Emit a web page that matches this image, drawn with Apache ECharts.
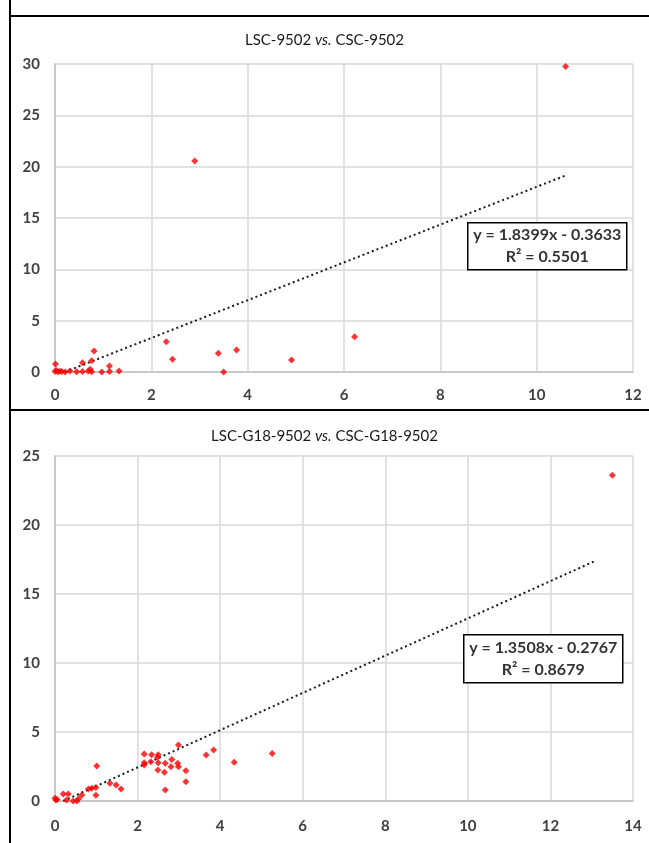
<!DOCTYPE html>
<html>
<head>
<meta charset="utf-8">
<script src="https://cdn.jsdelivr.net/npm/echarts@6/dist/echarts.min.js"></script>
<style>
html,body{margin:0;padding:0;background:#fff;}
#c{width:649px;height:843px;}
</style>
</head>
<body>
<div id="c"></div>
<script>
// ---- Top chart: LSC-9502 vs. CSC-9502 ----
var topX = [0.00,0.06,0.14,0.21,0.31,0.45,0.57,0.69,0.76,0.97,1.13,1.33,0.01,0.57,0.73,0.76,0.81,1.13,0.03,0.10,2.31,2.44,3.39,3.50,3.77,4.91,6.22,2.90,10.60];
var topY = [0.05,0.02,0.05,0.00,0.10,0.03,0.05,0.10,0.02,0.00,0.05,0.10,0.78,0.90,0.26,1.10,2.05,0.58,0.15,0.08,2.94,1.23,1.82,0.00,2.14,1.17,3.44,20.56,29.76];
var topTrendX = [0.20, 10.60];
var topTrendY = [0.00, 19.14];
var topXTicks = [0, 2, 4, 6, 8, 10, 12];
var topYTicks = [0, 5, 10, 15, 20, 25, 30];

// ---- Bottom chart: LSC-G18-9502 vs. CSC-G18-9502 ----
var botX = [0.02,0.05,0.00,0.20,0.32,0.28,0.44,0.53,0.57,0.65,0.81,0.89,0.99,0.99,1.01,1.33,1.48,1.60,
            2.16,2.34,2.50,2.48,2.16,2.16,2.32,2.50,2.49,2.65,2.67,2.83,2.81,2.99,2.97,2.99,3.17,3.17,2.67,
            3.66,3.84,4.34,5.26,13.50];
var botY = [0.07,0.10,0.20,0.50,0.50,0.07,0.00,0.00,0.17,0.43,0.87,0.92,0.97,0.41,2.54,1.28,1.16,0.87,
            3.40,3.36,3.36,3.17,2.78,2.61,2.85,2.78,2.25,2.08,2.73,3.00,2.49,4.06,2.73,2.49,2.20,1.40,0.80,
            3.33,3.70,2.80,3.45,23.60];
var botTrendX = [0.20, 13.10];
var botTrendY = [0.00, 17.42];
var botXTicks = [0, 2, 4, 6, 8, 10, 12, 14];
var botYTicks = [0, 5, 10, 15, 20, 25];

var topTitle = ['LSC-9502 ', 'vs.', ' CSC-9502'];
var botTitle = ['LSC-G18-9502 ', 'vs.', ' CSC-G18-9502'];
var topEq = ['y = 1.8399x - 0.3633', 'R² = 0.5501'];
var botEq = ['y = 1.3508x - 0.2767', 'R² = 0.8679'];

function pairs(xs, ys){ return xs.map(function(x,i){ return [x, ys[i]]; }); }

var FONT = 'Lato';
var labelStyle = {color:'#404040', fontFamily:FONT, fontSize:15, fontWeight:'bold'};
var gridLine = {show:true, lineStyle:{color:'#d9d9d9', width:1.5}};

function xAxis(idx, ticks, labelMargin){
  return {type:'value', gridIndex:idx, min:ticks[0], max:ticks[ticks.length-1], interval:ticks[1]-ticks[0],
    axisLine:{show:true, onZero:false, lineStyle:{color:'#bfbfbf', width:1.5}}, axisTick:{show:false},
    axisLabel:Object.assign({margin:labelMargin}, labelStyle), splitLine:gridLine};
}
function yAxis(idx, ticks){
  return {type:'value', gridIndex:idx, min:ticks[0], max:ticks[ticks.length-1], interval:ticks[1]-ticks[0],
    axisLine:{show:true, onZero:false, lineStyle:{color:'#bfbfbf', width:1.5}}, axisTick:{show:false},
    axisLabel:Object.assign({margin:15}, labelStyle), splitLine:gridLine};
}
function titleText(t){ return '{a|'+t[0]+'}{i|'+t[1]+'}{a|'+t[2]+'}'; }
var titleRich = {a:{fontFamily:FONT, fontSize:15, fontWeight:'normal', color:'#1a1a1a'},
                 i:{fontFamily:FONT, fontSize:15, fontWeight:'normal', fontStyle:'italic', color:'#1a1a1a'}};

function eqBox(x, y, w, h, lines){
  return {type:'group', left:x, top:y, z:100, children:[
    {type:'rect', z:100, shape:{x:0, y:0, width:w, height:h}, style:{fill:'#fff', stroke:'#000', lineWidth:1.5}},
    {type:'text', z:101, x:w/2, y:h/2, style:{text:lines.join('\n'), align:'center', verticalAlign:'middle',
      font:'bold 16px Lato', fill:'#333', lineHeight:22}}
  ]};
}

var chart = echarts.init(document.getElementById('c'), null, {renderer:'canvas'});
chart.setOption({
  animation:false,
  backgroundColor:'#fff',
  title:[
    {text:titleText(topTitle), left:'center', top:28, textStyle:{fontWeight:'normal', rich:titleRich}},
    {text:titleText(botTitle), left:'center', top:424, textStyle:{fontWeight:'normal', rich:titleRich}}
  ],
  grid:[
    {left:55, top:64, width:578, height:308},
    {left:55, top:456, width:578, height:345}
  ],
  xAxis:[xAxis(0, topXTicks, 16), xAxis(1, botXTicks, 18)],
  yAxis:[yAxis(0, topYTicks), yAxis(1, botYTicks)],
  series:[
    {type:'line', xAxisIndex:0, yAxisIndex:0, data:pairs(topTrendX, topTrendY), symbol:'none',
      lineStyle:{color:'#1a1a1a', width:2, type:[2,3]}, z:2},
    {type:'scatter', xAxisIndex:0, yAxisIndex:0, data:pairs(topX, topY), symbol:'diamond', symbolSize:7,
      itemStyle:{color:'#ff0000'}, z:3},
    {type:'line', xAxisIndex:1, yAxisIndex:1, data:pairs(botTrendX, botTrendY), symbol:'none',
      lineStyle:{color:'#1a1a1a', width:2, type:[2,3]}, z:2},
    {type:'scatter', xAxisIndex:1, yAxisIndex:1, data:pairs(botX, botY), symbol:'diamond', symbolSize:7,
      itemStyle:{color:'#ff0000'}, z:3}
  ],
  graphic:[
    {type:'line', z:100, shape:{x1:10, y1:0, x2:10, y2:843}, style:{stroke:'#000', lineWidth:2}},
    {type:'line', z:100, shape:{x1:10, y1:16, x2:649, y2:16}, style:{stroke:'#000', lineWidth:2}},
    {type:'line', z:100, shape:{x1:10, y1:410, x2:649, y2:410}, style:{stroke:'#000', lineWidth:2}},
    eqBox(467, 222, 159, 47, topEq),
    eqBox(463, 634, 159, 48, botEq)
  ]
});
</script>
</body>
</html>
